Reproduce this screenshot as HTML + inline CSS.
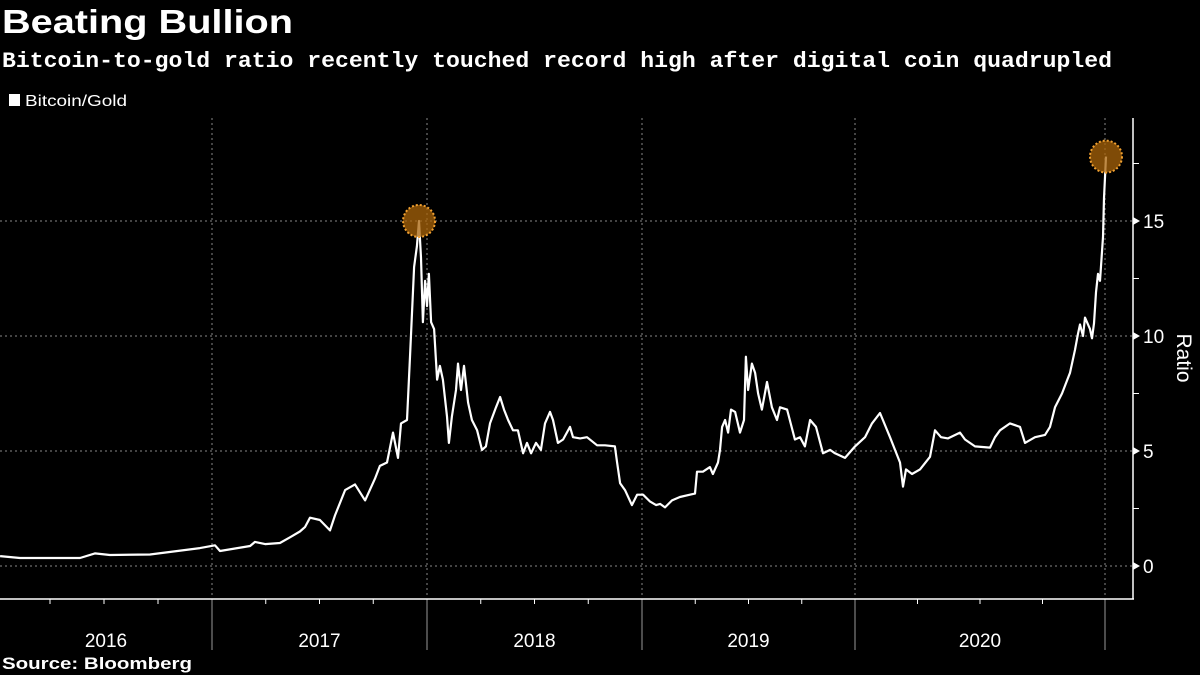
<!DOCTYPE html>
<html><head><meta charset="utf-8"><style>
html,body{margin:0;padding:0;background:#000;}
svg{display:block;}
</style></head><body>
<svg id="chart" width="1200" height="675" viewBox="0 0 1200 675" xmlns="http://www.w3.org/2000/svg">
<rect width="1200" height="675" fill="#000"/>
<text x="2" y="33" fill="#fff" font-family="Liberation Sans, sans-serif" font-weight="bold" font-size="33" textLength="291" lengthAdjust="spacingAndGlyphs">Beating Bullion</text>
<text x="2" y="67" fill="#fff" font-family="Liberation Mono, monospace" font-weight="bold" font-size="22" textLength="1110" lengthAdjust="spacingAndGlyphs">Bitcoin-to-gold ratio recently touched record high after digital coin quadrupled</text>
<rect x="9" y="94" width="11" height="12" fill="#fff"/>
<text x="25" y="106" fill="#fff" font-family="Liberation Sans, sans-serif" font-size="16" textLength="102" lengthAdjust="spacingAndGlyphs">Bitcoin/Gold</text>
<text x="2" y="669" fill="#fff" font-family="Liberation Sans, sans-serif" font-weight="bold" font-size="17" textLength="190" lengthAdjust="spacingAndGlyphs">Source: Bloomberg</text>
<g id="grid"></g><g id="axes"></g><g id="series"></g><g id="marks"></g>
</svg>
<script>
const yearLabels = ["2016","2017","2018","2019","2020"];
const yearBounds = [2016, 2017, 2018, 2019, 2020, 2021];
const yTicks = [0, 5, 10, 15];
const dates = [2016.019,2016.111,2016.25,2016.389,2016.458,2016.528,2016.713,2016.944,2017.014,2017.037,2017.177,2017.200,2017.247,2017.316,2017.363,2017.409,2017.433,2017.456,2017.502,2017.549,2017.572,2017.619,2017.665,2017.712,2017.758,2017.781,2017.814,2017.842,2017.865,2017.879,2017.907,2017.921,2017.940,2017.953,2017.963,2017.972,2017.981,2017.991,2018.000,2018.009,2018.019,2018.033,2018.047,2018.060,2018.074,2018.093,2018.102,2018.116,2018.135,2018.144,2018.158,2018.172,2018.191,2018.209,2018.233,2018.256,2018.274,2018.293,2018.321,2018.340,2018.358,2018.377,2018.400,2018.423,2018.447,2018.465,2018.484,2018.507,2018.530,2018.549,2018.572,2018.586,2018.609,2018.633,2018.665,2018.679,2018.712,2018.744,2018.791,2018.828,2018.874,2018.884,2018.898,2018.921,2018.953,2018.977,2019.005,2019.038,2019.066,2019.085,2019.108,2019.141,2019.178,2019.225,2019.249,2019.258,2019.286,2019.319,2019.333,2019.357,2019.366,2019.376,2019.390,2019.404,2019.418,2019.437,2019.460,2019.479,2019.488,2019.498,2019.516,2019.531,2019.545,2019.563,2019.587,2019.610,2019.634,2019.648,2019.681,2019.718,2019.742,2019.765,2019.789,2019.817,2019.850,2019.883,2019.906,2019.953,2020.000,2020.040,2020.068,2020.100,2020.140,2020.180,2020.192,2020.204,2020.228,2020.260,2020.300,2020.320,2020.344,2020.372,2020.420,2020.440,2020.480,2020.540,2020.560,2020.580,2020.620,2020.660,2020.680,2020.720,2020.760,2020.780,2020.800,2020.828,2020.860,2020.880,2020.892,2020.900,2020.912,2020.920,2020.940,2020.948,2020.956,2020.964,2020.972,2020.980,2020.992,2020.996,2021.000,2021.004];
const ratios = [0.43,0.35,0.35,0.35,0.55,0.48,0.5,0.78,0.9,0.65,0.87,1.05,0.95,1.0,1.25,1.5,1.7,2.1,2.0,1.55,2.2,3.3,3.55,2.85,3.8,4.35,4.5,5.8,4.7,6.2,6.35,9.1,13.0,13.9,15.0,13.4,10.6,12.4,11.3,12.7,10.6,10.3,8.1,8.7,8.1,6.5,5.35,6.5,7.65,8.8,7.65,8.7,7.1,6.35,5.9,5.05,5.2,6.2,6.9,7.35,6.8,6.35,5.9,5.9,4.9,5.35,4.9,5.35,5.05,6.2,6.7,6.35,5.35,5.5,6.05,5.6,5.55,5.6,5.25,5.25,5.2,4.5,3.6,3.3,2.65,3.1,3.1,2.8,2.65,2.7,2.55,2.85,3.0,3.1,3.15,4.1,4.1,4.3,4.0,4.5,5.05,6.05,6.35,5.8,6.8,6.7,5.8,6.35,9.1,7.65,8.8,8.4,7.5,6.8,8.0,6.9,6.35,6.9,6.8,5.5,5.6,5.2,6.35,6.05,4.9,5.05,4.9,4.7,5.2,5.6,6.2,6.65,5.6,4.5,3.45,4.2,4.0,4.2,4.75,5.9,5.6,5.55,5.8,5.5,5.2,5.15,5.6,5.9,6.2,6.05,5.35,5.6,5.7,6.05,6.9,7.5,8.4,9.4,10.1,10.5,10.0,10.8,10.3,9.9,10.55,11.9,12.7,12.4,14.3,16.0,16.9,17.8];

const yearPx = [-4, 212, 427, 642, 855, 1105];
function xScale(d){
  for(let i=0;i<yearBounds.length-1;i++){
    if(d<=yearBounds[i+1]||i===yearBounds.length-2){
      return yearPx[i]+(d-yearBounds[i])/(yearBounds[i+1]-yearBounds[i])*(yearPx[i+1]-yearPx[i]);
    }
  }
}
function yScale(v){ return 566 - v*23; }
const NS="http://www.w3.org/2000/svg";
function mk(tag, attrs, parent){const e=document.createElementNS(NS,tag);for(const k in attrs)e.setAttribute(k,attrs[k]);parent.appendChild(e);return e;}
const grid=document.getElementById('grid'), axes=document.getElementById('axes'), series=document.getElementById('series'), marks=document.getElementById('marks');

yTicks.forEach(t=>{
  const y=yScale(t);
  const g=mk('line',{x1:0,x2:1133,y1:y,y2:y,stroke:'#888','stroke-width':1,'stroke-dasharray':'2,3'},grid);
  
  
  const a=mk('path',{d:`M1133 ${y-4} L1140 ${y} L1133 ${y+4} Z`,fill:'#fff'},axes);
  
  
  const tx=mk('text',{x:1143,y:y+7,fill:'#fff','font-family':'Liberation Sans, sans-serif','font-size':19},axes);
  tx.textContent=t;
  
  
});
[2.5,7.5,12.5,17.5].forEach(t=>{
  const y=yScale(t);
  const m=mk('line',{x1:1133,x2:1139,y1:y,y2:y,stroke:'#fff','stroke-width':1},axes);
  
  
});
yearBounds.forEach((yr,i)=>{
  const x=xScale(yr);
  if(i===0) return;
  const g=mk('line',{x1:x,x2:x,y1:118,y2:598,stroke:'#888','stroke-width':1,'stroke-dasharray':'2,3'},grid);
  
  
  const s=mk('line',{x1:x,x2:x,y1:599,y2:650,stroke:'#999','stroke-width':1},axes);
  
  
});
for(let i=0;i<yearBounds.length-1;i++){
  for(let q=1;q<4;q++){
    const x=xScale(yearBounds[i]+q/4);
    const t=mk('line',{x1:x,x2:x,y1:599,y2:604,stroke:'#fff','stroke-width':1},axes);
    
    
  }
}
yearLabels.forEach((lab,i)=>{
  const x=(xScale(yearBounds[i])+xScale(yearBounds[i+1]))/2 + (i===0?2:0);
  const t=mk('text',{x:x,y:647,fill:'#fff','font-family':'Liberation Sans, sans-serif','font-size':19,'text-anchor':'middle'},axes);
  t.textContent=lab;
  
  
});
const xa=mk('line',{x1:0,x2:1134,y1:599,y2:599,stroke:'#fff','stroke-width':1.5},axes);


const ya=mk('line',{x1:1133,x2:1133,y1:118,y2:599,stroke:'#fff','stroke-width':1.5},axes);


const yt=mk('text',{x:0,y:0,fill:'#fff','font-family':'Liberation Sans, sans-serif','font-size':21,'text-anchor':'middle',transform:'translate(1177 358) rotate(90)'},axes);
yt.textContent='Ratio';



const pts=dates.map((d,i)=>xScale(d).toFixed(1)+','+yScale(ratios[i]).toFixed(1)).join(' ');
const line=mk('polyline',{points:pts,fill:'none',stroke:'#fff','stroke-width':2.2,'stroke-linejoin':'round'},series);



let pk=0;
dates.forEach((d,i)=>{ if(d<2018.5 && ratios[i]>ratios[pk]) pk=i; });
[pk, dates.length-1].forEach(i=>{
  const c=mk('circle',{cx:xScale(dates[i]),cy:yScale(ratios[i]),r:16,fill:'rgba(170,100,10,0.75)',stroke:'#f0a030','stroke-width':2,'stroke-dasharray':'2,2'},marks);
  
  
});
</script>
</body></html>
